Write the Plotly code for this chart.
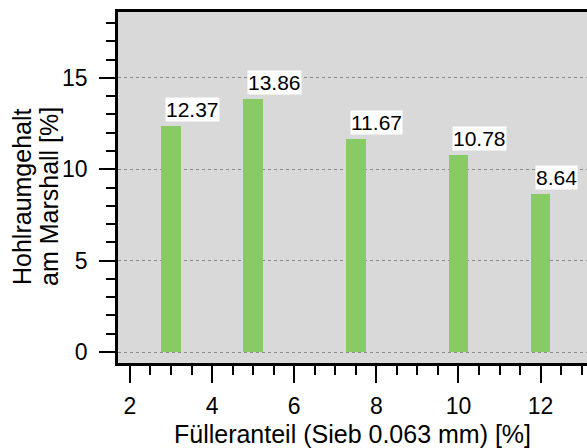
import plotly.graph_objects as go

filler = [3, 5, 7.5, 10, 12]
voids = [12.37, 13.86, 11.67, 10.78, 8.64]
labels = ["12.37", "13.86", "11.67", "10.78", "8.64"]
x_title = "Fülleranteil (Sieb 0.063 mm) [%]"
y_title_lines = ["Hohlraumgehalt", "am Marshall [%]"]

font = "Arial, Liberation Sans, sans-serif"

W, H = 587, 448
ML, MR, MT, MB = 118, 0, 12, 85
PW, PH = W - ML - MR, H - MT - MB

fig = go.Figure()
fig.add_trace(go.Bar(x=filler, y=voids, width=0.48, marker=dict(color="#88CB64", line=dict(width=0)),
                     hoverinfo="x+y"))

for xv, yv, t in zip(filler, voids, labels):
    fig.add_annotation(x=xv, y=yv, text=t, showarrow=False, xanchor="left", yanchor="bottom",
                       xshift=-6, yshift=4, bgcolor="white", borderpad=0,
                       font=dict(family=font, size=21, color="black"))

for cx, line in zip([22, 49], y_title_lines):
    fig.add_annotation(xref="paper", yref="paper", x=(cx - ML) / PW, y=(H - MB - 197) / PH,
                       text=line, textangle=-90, showarrow=False, xanchor="center", yanchor="middle",
                       font=dict(family=font, size=25, color="black"))

fig.update_layout(
    width=W, height=H,
    margin=dict(l=ML, r=MR, t=MT, b=MB, autoexpand=False),
    paper_bgcolor="white", plot_bgcolor="#D9D9D9",
    showlegend=False,
    font=dict(family=font, size=23, color="black"),
    bargap=0,
)
fig.update_xaxes(
    range=[1.71, 13.13], tickmode="linear", tick0=2, dtick=2,
    ticks="outside", ticklen=17, tickwidth=2, tickcolor="black",
    showline=True, linewidth=2.5, linecolor="black", mirror=True,
    showgrid=False, zeroline=False,
    minor=dict(tickmode="linear", tick0=2, dtick=0.5, ticks="outside", ticklen=9,
               tickwidth=2, tickcolor="black", showgrid=False),
    tickfont=dict(size=23), ticklabelstandoff=4,
    title=dict(text=x_title, font=dict(size=25), standoff=8),
)
fig.update_yaxes(
    range=[-0.6, 18.6], tickmode="linear", tick0=0, dtick=5,
    ticks="outside", ticklen=16, tickwidth=2, tickcolor="black",
    showline=True, linewidth=2.5, linecolor="black", mirror=False,
    showgrid=True, gridcolor="#8A8A8A", gridwidth=1, griddash="dot",
    zeroline=False,
    minor=dict(tickmode="linear", tick0=0, dtick=1, ticks="outside", ticklen=9,
               tickwidth=2, tickcolor="black", showgrid=False),
    tickfont=dict(size=23), ticklabelstandoff=7,
)

fig.write_html("out.html", config={"displayModeBar": False},
               post_script="document.body.style.margin='0';document.body.style.overflow='hidden';")
